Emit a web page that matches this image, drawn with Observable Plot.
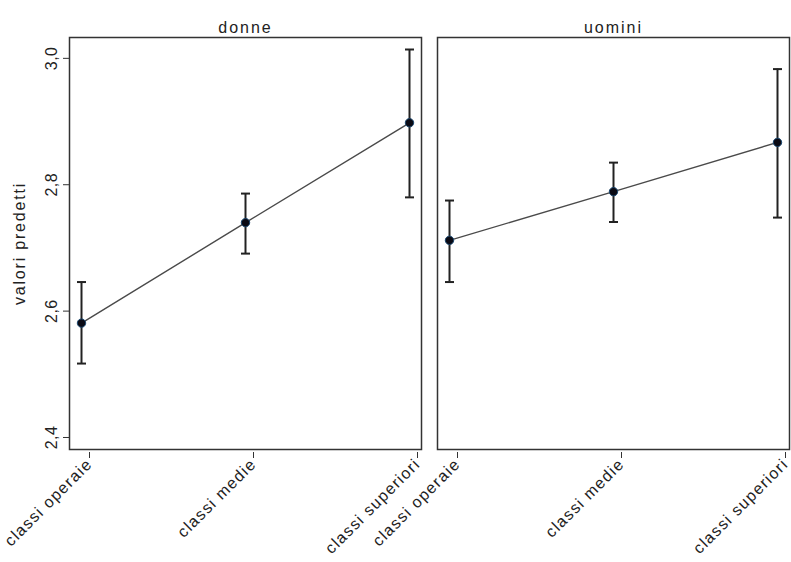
<!DOCTYPE html>
<html>
<head>
<meta charset="utf-8">
<script src="https://cdn.jsdelivr.net/npm/d3@7"></script>
<script src="https://cdn.jsdelivr.net/npm/@observablehq/plot@0.6"></script>
<style>
  html, body { margin: 0; padding: 0; background: #fff; }
  svg { display: block; }
  g[aria-label="fx-axis tick label"] text { letter-spacing: 2px; }
  g[aria-label="y-axis label"] text { letter-spacing: 1.8px; }
  g[aria-label="x-axis tick label"] text { letter-spacing: 1.3px; }
  g[aria-label="y-axis tick label"] text { letter-spacing: 0.5px; }
</style>
</head>
<body>
<div id="chart"></div>
<script>
const panels = ["donne", "uomini"];
const classes = ["classi operaie", "classi medie", "classi superiori"];
const donneValues = [2.581, 2.740, 2.898];
const donneLow = [2.517, 2.691, 2.780];
const donneHigh = [2.646, 2.786, 3.014];
const uominiValues = [2.712, 2.789, 2.867];
const uominiLow = [2.646, 2.741, 2.748];
const uominiHigh = [2.775, 2.835, 2.983];
const yTicks = [2.4, 2.6, 2.8, 3.0];
const yLabel = "valori predetti";

const series = { donne: [donneValues, donneLow, donneHigh], uomini: [uominiValues, uominiLow, uominiHigh] };
const rows = panels.flatMap(p => classes.map((c, i) => ({
  panel: p, cls: c, v: series[p][0][i], lo: series[p][1][i], hi: series[p][2][i]
})));

const fmt = d => d3.format(".1f")(d).replace(".", ",");
const capSymbol = {
  draw(ctx, size) {
    const h = Math.sqrt(size / Math.PI);
    ctx.moveTo(-h, 0);
    ctx.lineTo(h, 0);
  }
};

const chart = Plot.plot({
  width: 791,
  height: 562,
  marginLeft: 69,
  marginRight: 1,
  marginTop: 37,
  marginBottom: 113,
  style: { fontFamily: "'Liberation Sans', Arial, sans-serif", fontSize: "16px", color: "#222", background: "#fff" },
  fx: { domain: panels, padding: 0.0434, label: null },
  x: { domain: classes, type: "point", padding: 0.0667, label: null },
  y: { domain: [2.381, 3.033], label: null },
  marks: [
    Plot.frame({ stroke: "#333", strokeWidth: 1.5 }),
    Plot.axisFx({ anchor: "top", tickSize: 0, tickPadding: 5, fontSize: 16, label: null }),
    Plot.axisY({ ticks: yTicks, tickFormat: fmt, tickSize: 6, tickRotate: -90, tickPadding: 7, fontSize: 16, label: null, stroke: "#333" }),
    Plot.axisY({ ticks: [], label: yLabel, labelAnchor: "center", labelArrow: "none", labelOffset: 56, fontSize: 16 }),
    Plot.axisX({ tickSize: 6, tickRotate: -45, tickPadding: 3, dx: 8, dy: 3, fontSize: 16, label: null, stroke: "#333" }),
    Plot.line(rows, { x: "cls", y: "v", fx: "panel", stroke: "#4a4a4a", strokeWidth: 1.4 }),
    Plot.ruleX(rows, { x: "cls", y1: "lo", y2: "hi", fx: "panel", stroke: "#222", strokeWidth: 2 }),
    Plot.dot(rows, { x: "cls", y: "lo", fx: "panel", symbol: capSymbol, r: 4.5, stroke: "#222", strokeWidth: 2, fill: "none" }),
    Plot.dot(rows, { x: "cls", y: "hi", fx: "panel", symbol: capSymbol, r: 4.5, stroke: "#222", strokeWidth: 2, fill: "none" }),
    Plot.dot(rows, { x: "cls", y: "v", fx: "panel", r: 4.2, fill: "#0a0a14", stroke: "#1a476f", strokeWidth: 1 })
  ]
});
document.getElementById("chart").appendChild(chart);
</script>
</body>
</html>
